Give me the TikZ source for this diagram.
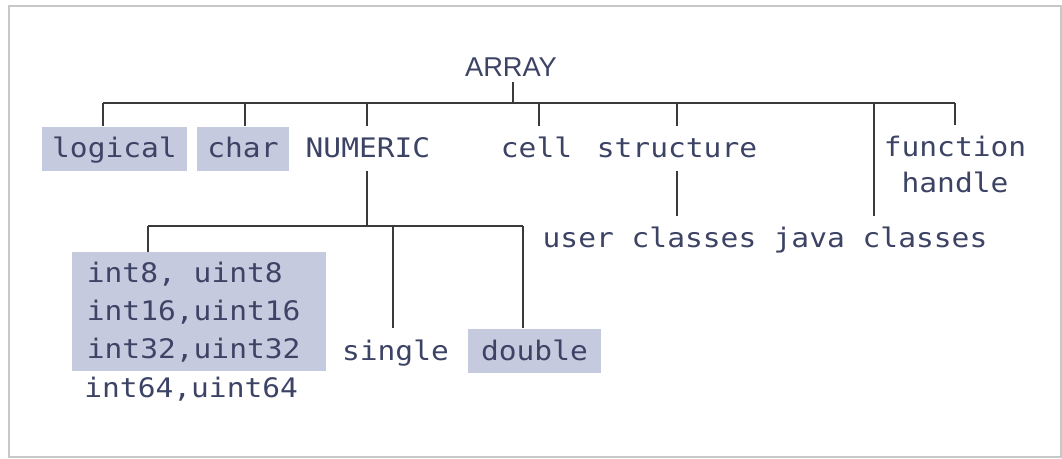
\documentclass[tikz,border=0pt]{standalone}
\usepackage{fontspec}
\usetikzlibrary{positioning}
\newfontfamily\codefont{DejaVu Sans Mono}[FakeStretch=1.1]
\newfontfamily\headfont{Liberation Sans}
\definecolor{typeink}{HTML}{3D4364}
\definecolor{wire}{HTML}{3A3A3A}
\definecolor{boxfill}{HTML}{C6CADF}
\definecolor{framegray}{HTML}{C8C8C8}

\begin{document}
\begin{tikzpicture}[x=0.02cm, y=-0.02cm,
  type/.style={font=\codefont\fontsize{15.3}{20.5}\selectfont, text=typeink, inner sep=0pt,
    text height=0.63cm, text depth=0.26cm, anchor=base},
  shaded/.style={type, fill=boxfill},
  branch/.style={draw=wire, line width=0.9pt}]
\useasboundingbox (0,0) rectangle (1062,459);
\draw[framegray, line width=0.8pt] (9,6) rectangle (1061,457);

% root
\node[font=\headfont\fontsize{15.5}{18}\selectfont, text=typeink, inner xsep=0pt, inner ysep=0.1cm, anchor=base] (array) at (511,77) {ARRAY};

% first level
\node[shaded, minimum width=2.9cm] (logical) at (114.5,158) {logical};
\node[shaded, minimum width=1.84cm] (char) at (243,158) {char};
\node[type] (numeric) at (368,158) {NUMERIC};
\node[type] (cell) at (536.5,158) {cell};
\node[type] (structure) at (677,158) {structure};
\node[type, text height=, text depth=, anchor=north, align=center, inner ysep=0.22cm] (fhandle) at (955,125) {function\\handle};
\node[type] (userc) at (649.5,248) {user classes};
\node[type] (javac) at (880.5,248) {java classes};

% numeric types
\node[type, text height=, text depth=, anchor=north west, fill=boxfill, align=left,
  text width=4.5cm, minimum width=5.08cm, minimum height=2.38cm,
  font=\codefont\fontsize{15.3}{21.6}\selectfont] (ints) at (72,252)
  {int8,\ \ uint8\\int16,uint16\\int32,uint32};
\node[type, anchor=base west] (int64) at (84,398) {int64,uint64};
\node[type] (single) at (395.5,360) {single};
\node[shaded, minimum width=2.66cm] (double) at (534.5,360) {double};

% tree lines
\coordinate (array-down) at (513,103);
\draw[branch] (array-down |- array.south) -- (array-down);
\foreach \x/\n in {103/logical,245/char,367/numeric,539/cell,677/structure,874/javac,955/fhandle} {
  \coordinate (\n-up) at (\x,103);
  \draw[branch] (\n-up) -- (\n-up |- \n.north);
}
\draw[branch] (logical-up) -- (fhandle-up);
\draw[branch] (structure.south) -- (structure.south |- userc.north);

\coordinate (numeric-down) at (367,226);
\draw[branch] (numeric-down |- numeric.south) -- (numeric-down);
\foreach \x/\n in {148/ints,393/single,523/double} {
  \coordinate (\n-up) at (\x,226);
  \draw[branch] (\n-up) -- (\n-up |- \n.north);
}
\draw[branch] (ints-up) -- (double-up);
\end{tikzpicture}
\end{document}
